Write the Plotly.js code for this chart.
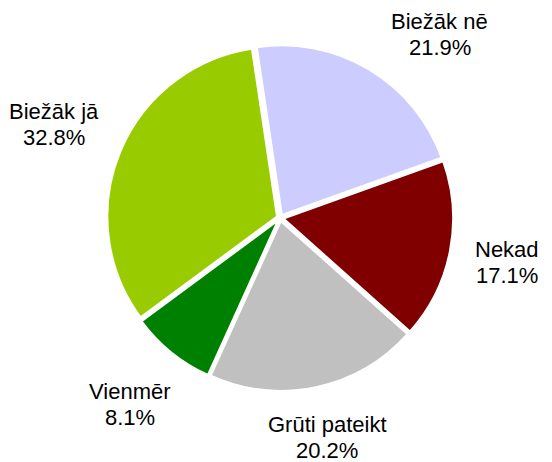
<!DOCTYPE html>
<html><head><meta charset="utf-8">
<script src="https://cdn.plot.ly/plotly-3.0.1.min.js"></script>
<style>html,body{margin:0;padding:0;background:#fff}</style>
</head><body><div id="chart" style="width:552px;height:462px"></div>
<script>
const labels = ["Biežāk nē", "Nekad", "Grūti pateikt", "Vienmēr", "Biežāk jā"];
const values = [21.9, 17.1, 20.2, 8.1, 32.8];
const colors = ["#CCCCFF", "#800000", "#C0C0C0", "#008000", "#99CC00"];

const W = 552, H = 462;
const ROT = -8.5;
const DOM = {x: [0.194, 0.821], y: [0.154, 0.903]};
const FONT = "Liberation Sans, Arial, sans-serif";
const FS = 22;
const LINE = 26;

// pie geometry (pixels)
const cx = (DOM.x[0] + DOM.x[1]) / 2 * W;
const cy = (1 - (DOM.y[0] + DOM.y[1]) / 2) * H;
const r = Math.min((DOM.x[1] - DOM.x[0]) * W, (DOM.y[1] - DOM.y[0]) * H) / 2;
const RL = 1.13 * r;

const ctx = document.createElement("canvas").getContext("2d");
ctx.font = FS + "px 'Liberation Sans'";

const total = values.reduce((a, b) => a + b, 0);
let cum = 0;
const annotations = [];
values.forEach((v, i) => {
  const mid = ROT + (cum + v / 2) / total * 360;
  cum += v;
  const pct = v.toFixed(1) + "%";
  const w = Math.max(ctx.measureText(labels[i]).width, ctx.measureText(pct).width);
  const h = 44;
  const place = (deg) => {
    const a = deg * Math.PI / 180;
    const dx = Math.sin(a), dy = -Math.cos(a);
    const t = RL + Math.abs(dx) * w / 2 + Math.abs(dy) * h / 2;
    return [cx + t * dx, cy + t * dy];
  };
  // labels near the top are slid round the pie until they fit
  const fits = (p) => p[1] - h / 2 >= 10 && p[0] - w / 2 >= 2 && p[0] + w / 2 <= W - 2;
  let p = place(mid);
  for (let k = 1; k <= 40 && !fits(p); k++) {
    const a = place(mid + k), b = place(mid - k);
    if (fits(a)) { p = a; break; }
    if (fits(b)) { p = b; break; }
  }
  // labels near the bottom are pushed up
  p[1] = Math.min(p[1], H - h / 2 - 4);
  [labels[i], pct].forEach((t, j) => {
    annotations.push({
      xref: "paper", yref: "paper",
      x: p[0] / W, y: 1 - (p[1] + (j - 0.5) * LINE + 1) / H,
      xanchor: "center", yanchor: "middle",
      text: t,
      showarrow: false,
      font: {family: FONT, size: FS, color: "#000"}
    });
  });
});

Plotly.newPlot("chart", [{
  type: "pie",
  labels: labels,
  values: values,
  sort: false,
  direction: "clockwise",
  rotation: ROT,
  marker: {colors: colors, line: {color: "#fff", width: 2}},
  pull: 0.02,
  textinfo: "none",
  hoverinfo: "none",
  domain: DOM,
  automargin: false
}], {
  width: W, height: H,
  margin: {l: 0, r: 0, t: 0, b: 0},
  showlegend: false,
  paper_bgcolor: "#fff",
  annotations: annotations
}, {displayModeBar: false, staticPlot: true});
</script></body></html>
